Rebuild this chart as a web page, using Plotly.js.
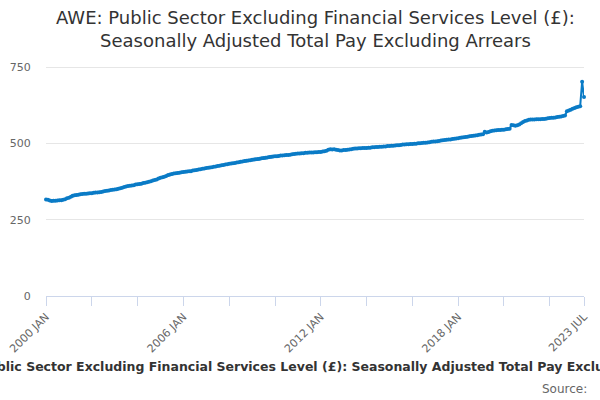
<!DOCTYPE html>
<html>
<head>
<meta charset="utf-8">
<script src="https://cdn.plot.ly/plotly-3.0.1.min.js"></script>
<style>
  html, body { margin: 0; padding: 0; background: #fff; }
  #chart { width: 600px; height: 400px; }
</style>
</head>
<body>
<div id="chart"></div>
<script>
/* monthly values, Jan 2000 to Jul 2023, one row per year */
const startYear = 2000;
const awe = [
  316, 315, 313, 311, 312, 312, 313, 314, 314, 315, 317, 320,
  322, 325, 328, 330, 331, 332, 333, 334, 335, 335, 336, 337,
  337, 338, 339, 339, 340, 341, 342, 344, 345, 346, 347, 348,
  349, 350, 351, 353, 355, 357, 359, 360, 361, 362, 363, 365,
  366, 367, 368, 370, 371, 373, 374, 376, 378, 380, 382, 385,
  387, 389, 391, 393, 396, 398, 400, 401, 402, 403, 404, 405,
  406, 407, 408, 409, 409, 411, 412, 413, 414, 415, 417, 418,
  419, 420, 421, 422, 423, 424, 426, 427, 428, 429, 431, 432,
  433, 434, 435, 436, 437, 438, 440, 441, 442, 443, 444, 445,
  446, 447, 448, 449, 450, 451, 452, 453, 454, 455, 456, 457,
  458, 458, 459, 460, 460, 461, 462, 462, 463, 464, 465, 466,
  467, 467, 468, 468, 469, 469, 470, 470, 470, 471, 471, 472,
  472, 473, 474, 476, 479, 481, 480, 481, 479, 478, 477, 477,
  478, 478, 479, 480, 481, 482, 483, 483, 484, 484, 485, 485,
  485, 486, 486, 487, 487, 488, 488, 489, 489, 490, 490, 491,
  491, 492, 492, 493, 494, 494, 495, 496, 496, 497, 497, 498,
  498, 499, 499, 500, 500, 501, 502, 502, 503, 504, 505, 506,
  506, 507, 508, 509, 510, 511, 512, 513, 513, 514, 515, 516,
  517, 518, 519, 520, 521, 522, 523, 524, 525, 526, 527, 528,
  529, 530, 538, 536, 537, 540, 541, 542, 543, 544, 544, 545,
  545, 546, 547, 548, 560, 559, 558, 559, 562, 566, 570, 573,
  575, 577, 578, 578, 578, 579, 579, 579, 580, 580, 581, 582,
  583, 584, 584, 585, 586, 587, 588, 590, 591, 605, 608, 610,
  613, 616, 618, 620, 622, 702, 652
];

const tickDates = ["2000-01-01", "2002-01-01", "2004-01-01", "2006-01-01", "2008-01-01",
  "2010-01-01", "2012-01-01", "2014-01-01", "2016-01-01", "2018-01-01",
  "2020-01-01", "2022-01-01", "2023-07-01"];
const tickLabels = ["2000 JAN", "", "", "2006 JAN", "", "", "2012 JAN", "", "", "2018 JAN",
  "", "", "2023 JUL"];

const titleText = "AWE: Public Sector Excluding Financial Services Level (£): Seasonally Adjusted Total Pay Excluding Arrears";

const dates = awe.map((v, i) => {
  const y = startYear + Math.floor(i / 12);
  const m = (i % 12) + 1;
  return y + "-" + String(m).padStart(2, "0") + "-01";
});

const data = [
  {
    x: dates,
    y: awe,
    type: "scatter",
    mode: "lines+markers",
    line: { color: "#0a7bc6", width: 2 },
    marker: { color: "#0a7bc6", size: 4 },
    cliponaxis: false,
    hoverinfo: "x+y",
  },
];

const layout = {
  width: 600,
  height: 400,
  margin: { l: 46, r: 16, t: 64, b: 104 },
  paper_bgcolor: "#fff",
  plot_bgcolor: "#fff",
  showlegend: false,
  font: { family: "DejaVu Sans, sans-serif", color: "#666" },
  xaxis: {
    type: "date",
    range: [dates[0], dates[dates.length - 1]],
    tickvals: tickDates,
    ticktext: tickLabels,
    tickangle: -45,
    ticks: "outside",
    ticklen: 9,
    tickcolor: "#ccd6eb",
    showline: true,
    linecolor: "#ccd6eb",
    linewidth: 1,
    showgrid: false,
    zeroline: false,
    tickfont: { size: 11, color: "#666" },
  },
  yaxis: {
    range: [0, 760],
    tickvals: [0, 250, 500, 750],
    ticks: "outside",
    ticklen: 12,
    tickcolor: "rgba(0,0,0,0)",
    showgrid: true,
    gridcolor: "#e6e6e6",
    zeroline: false,
    showline: false,
    tickfont: { size: 11, color: "#666" },
  },
  annotations: [
    {
      text: "AWE: Public Sector Excluding Financial Services Level (£):<br>Seasonally Adjusted Total Pay Excluding Arrears",
      xref: "paper", yref: "paper",
      x: 0.5, y: 1.153,
      xanchor: "center", yanchor: "middle",
      showarrow: false,
      font: { family: "DejaVu Sans, sans-serif", size: 18, color: "#333" },
    },
    {
      text: "<b>" + titleText + "</b>",
      xref: "paper", yref: "paper",
      x: 0.5, y: -0.306,
      xanchor: "center", yanchor: "middle",
      showarrow: false,
      font: { family: "DejaVu Sans, sans-serif", size: 12.5, color: "#333" },
    },
    {
      text: "Source:",
      xref: "paper", yref: "paper",
      x: 1.01, y: -0.401,
      xanchor: "right", yanchor: "middle",
      showarrow: false,
      font: { family: "DejaVu Sans, sans-serif", size: 12, color: "#666" },
    },
  ],
};

Plotly.newPlot("chart", data, layout, { displayModeBar: false, staticPlot: true });
</script>
</body>
</html>
